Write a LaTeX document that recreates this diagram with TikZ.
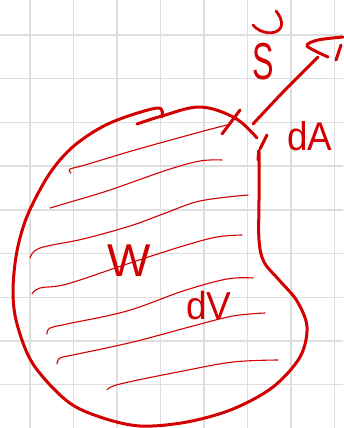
\documentclass[tikz,border=0pt]{standalone}
\usepackage{fontspec}
\setmainfont{Liberation Sans}
\definecolor{ink}{RGB}{210,0,0}
\definecolor{gridc}{RGB}{222,222,222}
\tikzset{
  gridline/.style={draw=gridc, line width=1.4pt},
  outline/.style={draw=ink, line width=3pt, line cap=round, line join=round},
  hatch/.style={draw=ink, line width=1.1pt, line cap=round},
  pen/.style={draw=ink, line width=2.8pt, line cap=round, line join=round},
  lbl/.style={text=ink, inner sep=0pt, outer sep=0pt}
}
\begin{document}
\begin{tikzpicture}[x=1pt,y=-1pt]
\useasboundingbox (0,0) rectangle (343,428);
\fill[white] (0,0) rectangle (343,428);
% grid
\foreach \i in {0,...,7} \draw[gridline] ({30+43.5*\i},0) -- ({30+43.5*\i},428);
\foreach \j in {0,...,8} \draw[gridline] (0,{35+43.7*\j}) -- (343,{35+43.7*\j});
% hatching
\draw[hatch] plot[smooth, tension=0.6] coordinates {(71,173) (70,169) (85,165) (135,150) (200,132) (227,125)};
\draw[hatch] plot[smooth, tension=0.6] coordinates {(50,208) (67,203) (110,190) (167,170) (200,161) (222,160)};
\draw[hatch] plot[smooth, tension=0.6] coordinates {(30,258) (40,248) (83,239) (130,226) (163,214) (200,201) (248,195)};
\draw[hatch] plot[smooth, tension=0.6] coordinates {(32,294) (40,288) (67,284) (127,264) (183,246) (217,237) (242,235)};
\draw[hatch] plot[smooth, tension=0.6] coordinates {(47,334) (50,328) (67,324) (127,311) (183,291) (227,279) (253,278)};
\draw[hatch] plot[smooth, tension=0.6] coordinates {(57,364) (60,358) (73,355) (133,342) (193,326) (233,316) (265,313)};
\draw[hatch] plot[smooth, tension=0.6] coordinates {(107,390) (120,384) (183,371) (233,362) (278,360)};
% outline: top arc
\draw[outline] plot[smooth, tension=0.6] coordinates {(137,124) (162,116) (200,107) (235,118) (257,138)};
% Y tip
\draw[outline] (267,135) -- (260,149);
% right, bottom and left body
\draw[outline] plot[smooth, tension=0.55] coordinates {(258,160) (259,152) (259,200) (259,240) (264,262) (280,281) (297,301) (307,327) (300,357) (273,387) (233,409) (187,422) (140,426) (100,417) (67,401) (33,364) (17,324) (13,291) (17,251) (28,214) (50,173) (75,145) (110,123) (157,108) (162,117)};
% tick across the curve
\draw[outline] (222,134) -- (240,110);
% arrow shaft and head
\draw[outline] plot[smooth, tension=0.5] coordinates {(253,124) (285,90) (318,57)};
\draw[outline] plot[smooth, tension=0.5] coordinates {(328,57) (307,46) (318,40) (343,37)};
\draw[outline] (336,60) -- (341,45);
% vector mark above S
\draw[pen] (253,25) .. controls (260,34) and (277,36) .. (281,27) .. controls (283,20) and (279,15) .. (276,11);
% labels
\node[lbl, font=\fontsize{52}{52}\selectfont, anchor=south west] (S) at (252,80) {\scalebox{0.62}[1]{S}};
\node[lbl, font=\fontsize{40}{40}\selectfont, anchor=south west] (dA) at (287,151) {\scalebox{0.92}[1]{dA}};
\node[lbl, font=\fontsize{46}{46}\selectfont, anchor=south west] (W) at (107,276) {W};
\node[lbl, font=\fontsize{39}{39}\selectfont, anchor=south west] (dV) at (186,320) {\scalebox{0.95}[1]{dV}};
\end{tikzpicture}
\end{document}
